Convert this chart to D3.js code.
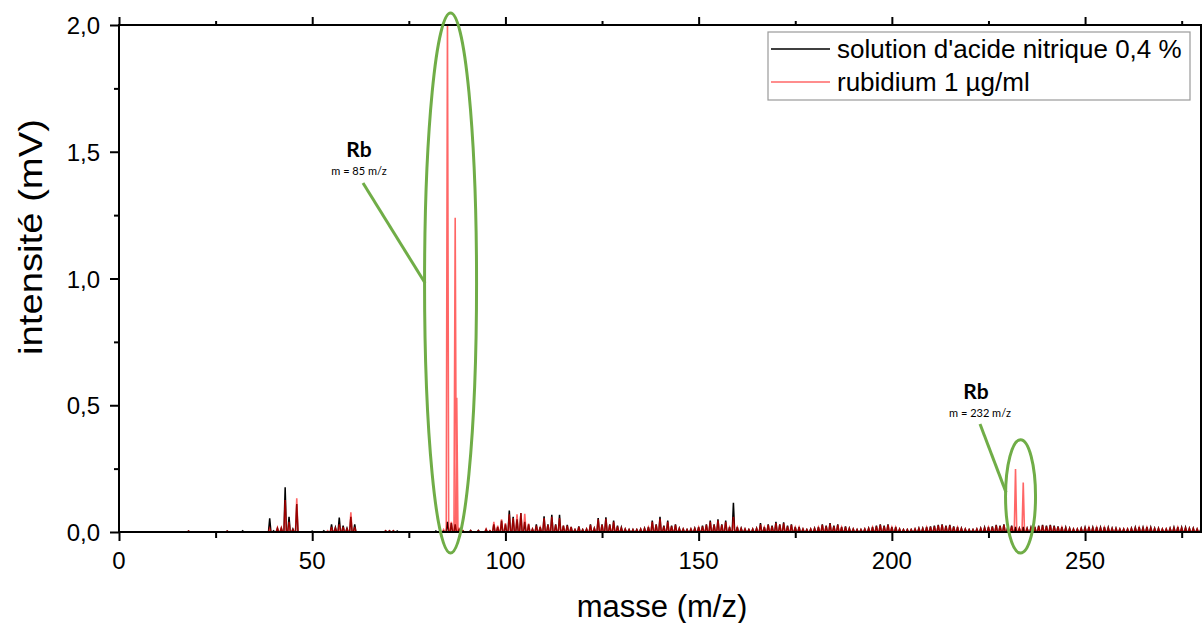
<!DOCTYPE html>
<html><head><meta charset="utf-8">
<script src="https://cdn.jsdelivr.net/npm/d3@7"></script>
<style>body{margin:0;background:#fff}svg{display:block}</style>
</head><body><svg id="chart" width="1202" height="623"></svg>
<script>
// ---------- data ----------
const xTicks = [0, 50, 100, 150, 200, 250];
const yTicks = [0, 0.5, 1.0, 1.5, 2.0];
const seriesNames = ["solution d'acide nitrique 0,4 %", "rubidium 1 µg/ml"];

// low-mass region (sparse peaks)
const blankLowMass  = [18, 28, 32, 39, 40, 41, 42, 43, 44, 45, 46, 50, 53, 55, 56, 57, 58, 59, 60, 61, 69, 70, 71, 72, 82, 84, 85, 86, 87, 88, 89, 91, 93];
const blankLowValue = [0.004, 0.004, 0.005, 0.054, 0.005, 0.015, 0.015, 0.176, 0.06, 0.012, 0.11, 0.003, 0.005, 0.03, 0.018, 0.057, 0.025, 0.015, 0.06, 0.03, 0.005, 0.005, 0.005, 0.004, 0.004, 0.004, 0.04, 0.035, 0.03, 0.01, 0.005, 0.006, 0.006];
const rbLowMass  = [18, 28, 39, 41, 42, 43, 44, 45, 46, 54, 55, 56, 57, 58, 59, 60, 61, 69, 70, 71, 84, 85, 86, 87, 87.4, 88, 89, 91, 93];
const rbLowValue = [0.004, 0.004, 0.015, 0.017, 0.017, 0.126, 0.04, 0.01, 0.133, 0.005, 0.02, 0.015, 0.03, 0.02, 0.012, 0.078, 0.02, 0.005, 0.005, 0.005, 0.01, 2.05, 0.04, 1.24, 0.53, 0.012, 0.006, 0.006, 0.006];

// dense region: one value per integer mass, 95 .. 280
const denseMass = d3.range(95, 281);
const blankDense = [
  0.010, 0.005, 0.030, 0.020, 0.045, 0.030, 0.085, 0.060, 0.050, 0.075, 0.040, 0.030,            // 95-106
  0.012, 0.030, 0.020, 0.062, 0.030, 0.068, 0.030, 0.068, 0.025, 0.028, 0.020, 0.010, 0.022, 0.010, // 107-120
  0.012, 0.030, 0.015, 0.055, 0.030, 0.058, 0.030, 0.045, 0.025, 0.018, 0.012, 0.010, 0.010, 0.010, 0.012, 0.015, 0.020, // 121-137
  0.045, 0.030, 0.060, 0.025, 0.045, 0.025, 0.030, 0.015, 0.012, 0.010, 0.012, 0.015, 0.020,    // 138-150
  0.025, 0.030, 0.045, 0.030, 0.050, 0.030, 0.045, 0.020, 0.115, 0.020, 0.015, 0.012, 0.010, 0.012, 0.015, 0.035, // 151-166
  0.020, 0.030, 0.025, 0.040, 0.030, 0.038, 0.025, 0.030, 0.020, 0.020, 0.012, 0.010, 0.012, 0.015, // 167-180
  0.020, 0.030, 0.025, 0.035, 0.025, 0.030, 0.020, 0.022, 0.015, 0.012, 0.010, 0.010, 0.012, 0.015, 0.020, // 181-195
  0.025, 0.030, 0.025, 0.030, 0.020, 0.020, 0.012, 0.010, 0.010, 0.010, 0.012, 0.015, 0.015, 0.020, // 196-209
  0.022, 0.025, 0.028, 0.030, 0.025, 0.028, 0.022, 0.020, 0.015, 0.012, 0.010, 0.010, 0.012, 0.015, 0.018, // 210-224
  0.020, 0.022, 0.028, 0.025, 0.030, 0.020, 0.025, 0.020, 0.015, 0.020, 0.015, 0.018, 0.020, 0.025, 0.028, 0.025, // 225-240
  0.028, 0.025, 0.022, 0.020, 0.018, 0.015, 0.012, 0.012, 0.015, 0.018, 0.020, 0.018, 0.020, 0.018, 0.020, 0.018, 0.015, 0.015, 0.012, 0.012, // 241-260
  0.012, 0.015, 0.018, 0.020, 0.018, 0.020, 0.018, 0.015, 0.015, 0.012, 0.012, 0.015, 0.018, 0.020, 0.018, 0.018, 0.015, 0.015, 0.012, 0.012  // 261-280
];
const rbDense = [
  0.012, 0.006, 0.040, 0.025, 0.050, 0.035, 0.070, 0.055, 0.070, 0.075, 0.072, 0.033,
  0.012, 0.025, 0.018, 0.055, 0.028, 0.060, 0.028, 0.055, 0.025, 0.025, 0.020, 0.010, 0.020, 0.010,
  0.012, 0.028, 0.015, 0.050, 0.028, 0.052, 0.028, 0.040, 0.022, 0.016, 0.012, 0.010, 0.010, 0.010, 0.012, 0.014, 0.018,
  0.040, 0.028, 0.052, 0.022, 0.040, 0.022, 0.028, 0.014, 0.012, 0.010, 0.012, 0.014, 0.018,
  0.022, 0.028, 0.040, 0.028, 0.045, 0.028, 0.040, 0.018, 0.060, 0.018, 0.014, 0.012, 0.010, 0.012, 0.014, 0.030,
  0.018, 0.028, 0.022, 0.035, 0.028, 0.034, 0.022, 0.028, 0.018, 0.018, 0.012, 0.010, 0.012, 0.014,
  0.018, 0.028, 0.022, 0.032, 0.022, 0.028, 0.018, 0.020, 0.014, 0.012, 0.010, 0.010, 0.012, 0.014, 0.018,
  0.022, 0.028, 0.022, 0.028, 0.018, 0.018, 0.012, 0.010, 0.010, 0.010, 0.012, 0.014, 0.014, 0.018,
  0.020, 0.022, 0.026, 0.028, 0.022, 0.026, 0.020, 0.018, 0.014, 0.012, 0.010, 0.010, 0.012, 0.014, 0.016,
  0.018, 0.020, 0.026, 0.022, 0.028, 0.018, 0.022, 0.248, 0.014, 0.195, 0.014, 0.016, 0.018, 0.022, 0.026, 0.022,
  0.026, 0.022, 0.020, 0.018, 0.016, 0.014, 0.012, 0.012, 0.014, 0.016, 0.018, 0.016, 0.018, 0.016, 0.018, 0.016, 0.014, 0.014, 0.012, 0.012,
  0.012, 0.014, 0.016, 0.018, 0.016, 0.018, 0.016, 0.014, 0.014, 0.012, 0.012, 0.014, 0.016, 0.018, 0.016, 0.016, 0.014, 0.014, 0.012, 0.012
];

const annotations = [
  {label: "Rb", sub: "m = 85 m/z", mass: 85.8, top: 2.047, bottom: -0.083, rx: 26, lx: 359, subDx: 0, ly: 150, fromX: 363, fromY: 183},
  {label: "Rb", sub: "m = 232 m/z", mass: 233.3, top: 0.364, bottom: -0.083, rx: 15, lx: 976, subDx: 4, ly: 392, fromX: 980, fromY: 424}
];

// ---------- layout ----------
const svg = d3.select("#chart");
const x = d3.scaleLinear().domain([0, 280]).range([119, 1201]);
const y = d3.scaleLinear().domain([0, 2]).range([532, 25]);
const font = "'Liberation Sans', Arial, sans-serif";
const fmt = v => d3.format(".1f")(v).replace(".", ",");

svg.append("defs").append("clipPath").attr("id", "clip")
  .append("rect").attr("x", x(0)).attr("y", y(2)).attr("width", x(280) - x(0)).attr("height", y(0) - y(2));

function buildPoints(ms, vs) {
  const pts = ms.map((m, i) => ({m, v: vs[i]})).sort((a, b) => a.m - b.m);
  const out = [{m: 0, v: 0}];
  pts.forEach(p => { out.push({m: p.m - 0.32, v: 0}, {m: p.m, v: p.v}, {m: p.m + 0.32, v: 0}); });
  out.push({m: 280, v: 0});
  return out;
}
const blankPts = buildPoints(blankLowMass.concat(denseMass), blankLowValue.concat(blankDense));
const rbPts = buildPoints(rbLowMass.concat(denseMass), rbLowValue.concat(rbDense));
const line = d3.line().x(d => x(d.m)).y(d => y(d.v));

const plot = svg.append("g").attr("clip-path", "url(#clip)");
plot.append("path").datum(blankPts).attr("d", line).attr("fill", "none").attr("stroke", "#000").attr("stroke-width", 1.5);
plot.append("path").datum(rbPts).attr("d", line).attr("fill", "none").attr("stroke", "rgba(255,0,0,0.6)").attr("stroke-width", 1.6);

// ---------- axes ----------
const axisG = svg.append("g");
function styleAxis(g) {
  g.select(".domain").remove();
  g.selectAll("line").attr("stroke", "#000").attr("stroke-width", 2);
  g.selectAll("text").remove();
}
axisG.append("g").attr("transform", `translate(0,${y(0)})`)
  .call(d3.axisBottom(x).tickValues(xTicks).tickSize(9)).call(styleAxis);
axisG.append("g").attr("transform", `translate(0,${y(0)})`)
  .call(d3.axisBottom(x).tickValues([25, 75, 125, 175, 225, 275]).tickSize(6)).call(styleAxis);
axisG.append("g").attr("transform", `translate(0,${y(2)})`)
  .call(d3.axisTop(x).tickValues(xTicks).tickSize(8)).call(styleAxis);
axisG.append("g").attr("transform", `translate(0,${y(2)})`)
  .call(d3.axisTop(x).tickValues([25, 75, 125, 175, 225, 275]).tickSize(4)).call(styleAxis);
axisG.append("g").attr("transform", `translate(${x(0)},0)`)
  .call(d3.axisLeft(y).tickValues(yTicks).tickSize(9)).call(styleAxis);
axisG.append("g").attr("transform", `translate(${x(0)},0)`)
  .call(d3.axisLeft(y).tickValues([0.25, 0.75, 1.25, 1.75]).tickSize(5)).call(styleAxis);

// frame
svg.append("rect").attr("x", x(0)).attr("y", y(2)).attr("width", x(280) - x(0)).attr("height", y(0) - y(2))
  .attr("fill", "none").attr("stroke", "#000").attr("stroke-width", 2);

// tick labels
svg.append("g").selectAll("text").data(xTicks).join("text")
  .attr("x", d => x(d)).attr("y", 569).attr("text-anchor", "middle")
  .attr("font-family", font).attr("font-size", 24).text(d => d);
svg.append("g").selectAll("text").data(yTicks).join("text")
  .attr("x", 100).attr("y", d => y(d) + 9).attr("text-anchor", "end")
  .attr("font-family", font).attr("font-size", 24).text(fmt);

// axis titles
svg.append("text").attr("x", 662).attr("y", 617).attr("text-anchor", "middle")
  .attr("font-family", font).attr("font-size", 31).text("masse (m/z)");
svg.append("text").attr("transform", "translate(42,237) rotate(-90)").attr("text-anchor", "middle")
  .attr("font-family", font).attr("font-size", 33)
  .attr("textLength", 236).attr("lengthAdjust", "spacingAndGlyphs").text("intensité (mV)");

// legend
const lg = svg.append("g");
lg.append("rect").attr("x", 768).attr("y", 32).attr("width", 422).attr("height", 68)
  .attr("fill", "#fff").attr("stroke", "#9a9a9a").attr("stroke-width", 1.2);
const legendColors = ["#000", "rgba(255,0,0,0.6)"];
seriesNames.forEach((n, i) => {
  const yy = 49 + i * 33;
  lg.append("line").attr("x1", 771).attr("x2", 830).attr("y1", yy).attr("y2", yy)
    .attr("stroke", legendColors[i]).attr("stroke-width", 1.6);
  lg.append("text").attr("x", 837).attr("y", yy + 9).attr("font-family", font).attr("font-size", 26).text(n);
});

// annotations
const green = "#70ad47";
annotations.forEach((a, i) => {
  const cx = x(a.mass), cy = (y(a.top) + y(a.bottom)) / 2, ry = (y(a.bottom) - y(a.top)) / 2;
  svg.append("ellipse").attr("cx", cx).attr("cy", cy).attr("rx", a.rx).attr("ry", ry)
    .attr("fill", "none").attr("stroke", green).attr("stroke-width", 3);
  svg.append("line").attr("x1", a.fromX).attr("y1", a.fromY).attr("x2", cx - a.rx + 0.5).attr("y2", i === 0 ? cy : cy - 4)
    .attr("stroke", green).attr("stroke-width", 3);
  svg.append("text").attr("x", a.lx).attr("y", a.ly + 7).attr("text-anchor", "middle")
    .attr("font-family", "Lato, 'Open Sans', sans-serif").attr("font-weight", "bold").attr("font-size", 21).text(a.label);
  svg.append("text").attr("x", a.lx + a.subDx).attr("y", a.ly + 25).attr("text-anchor", "middle")
    .attr("font-family", "Lato, 'Open Sans', sans-serif").attr("font-size", 11).text(a.sub);
});
</script></body></html>
